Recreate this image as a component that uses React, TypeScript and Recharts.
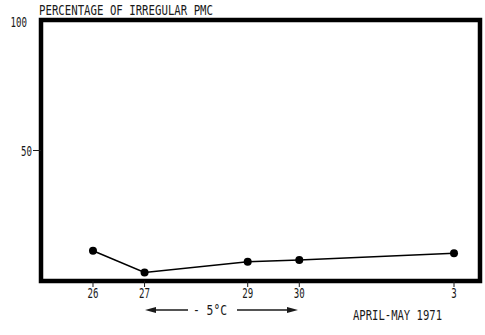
import React from 'react';
import { LineChart, Line, XAxis, YAxis, ReferenceArea } from 'recharts';

const dayIndex = [0, 1, 3, 4, 7];
const dayLabels = ['26', '27', '29', '30', '3'];
const irregularPct = [11.6, 3.3, 7.4, 8.0, 10.6];
const yTicks = [50, 100];

const data = dayIndex.map((d, i) => ({ day: d, label: dayLabels[i], pct: irregularPct[i] }));

const FONT = "'DejaVu Sans Mono', 'Liberation Mono', monospace";
const INK = '#1a1a1a';
const X_DOMAIN: [number, number] = [-1.008, 7.504];

const XTick = (props: any) => {
  const { x, y, payload } = props;
  const idx = dayIndex.indexOf(payload.value);
  return (
    <g transform={`translate(${x},${y})`}>
      <text x={0} y={0} dy={9} textAnchor="middle" transform="scale(0.65,1)" fontFamily={FONT} fontSize={14} fill={INK}>
        {idx >= 0 ? dayLabels[idx] : ''}
      </text>
    </g>
  );
};

const YTick = (props: any) => {
  const { x, y, payload } = props;
  const top = payload.value === 100;
  return (
    <g transform={`translate(${x + (top ? -5 : 0)},${y})`}>
      {!top && <line x1={1} y1={0} x2={9} y2={0} stroke={INK} strokeWidth={1} />}
      <text x={0} y={0} dy={top ? 7 : 5} textAnchor="end" transform="scale(0.65,1)" fontFamily={FONT} fontSize={14} fill={INK}>
        {payload.value}
      </text>
    </g>
  );
};

export default function App() {
  return (
    <div style={{ position: 'absolute', left: 0, top: 0, width: 485, height: 335, background: '#fff' }}>
      <LineChart
        width={485}
        height={335}
        data={data}
        margin={{ top: 20, right: 5, bottom: 24, left: 0 }}
      >
        <XAxis
          dataKey="day"
          type="number"
          domain={X_DOMAIN}
          ticks={dayIndex}
          tick={<XTick />}
          tickSize={6}
          tickMargin={2}
          axisLine={false}
          tickLine={{ stroke: INK, strokeWidth: 1 }}
          height={30}
          interval={0}
        />
        <YAxis
          type="number"
          domain={[0, 100]}
          ticks={yTicks}
          tick={<YTick />}
          tickSize={6}
          tickMargin={3}
          axisLine={false}
          tickLine={false}
          width={41}
        />
        <ReferenceArea
          x1={X_DOMAIN[0]}
          x2={X_DOMAIN[1]}
          y1={0}
          y2={100}
          stroke="#000"
          strokeWidth={4.5}
          fill="none"
          fillOpacity={0}
          ifOverflow="visible"
        />
        <Line
          dataKey="pct"
          stroke="#000"
          strokeWidth={1.5}
          dot={{ r: 4, fill: '#000', stroke: '#000', strokeWidth: 0 }}
          isAnimationActive={false}
        />
      </LineChart>
      <svg width={485} height={335} style={{ position: 'absolute', left: 0, top: 0, pointerEvents: 'none' }}>
        <text x={39} y={15} fontFamily={FONT} fontSize={14} fill={INK} textLength={174} lengthAdjust="spacingAndGlyphs">
          PERCENTAGE OF IRREGULAR PMC
        </text>
        <line x1={150} y1={310} x2={188} y2={310} stroke={INK} strokeWidth={1.3} />
        <polygon points="145,310 156,307 156,313" fill={INK} />
        <text x={193} y={315} fontFamily={FONT} fontSize={14} fill={INK} textLength={34} lengthAdjust="spacingAndGlyphs">
          - 5°C
        </text>
        <line x1={237} y1={310} x2={292} y2={310} stroke={INK} strokeWidth={1.3} />
        <polygon points="298,310 287,307 287,313" fill={INK} />
        <text x={353} y={320} fontFamily={FONT} fontSize={14} fill={INK} textLength={89} lengthAdjust="spacingAndGlyphs">
          APRIL-MAY 1971
        </text>
      </svg>
    </div>
  );
}
